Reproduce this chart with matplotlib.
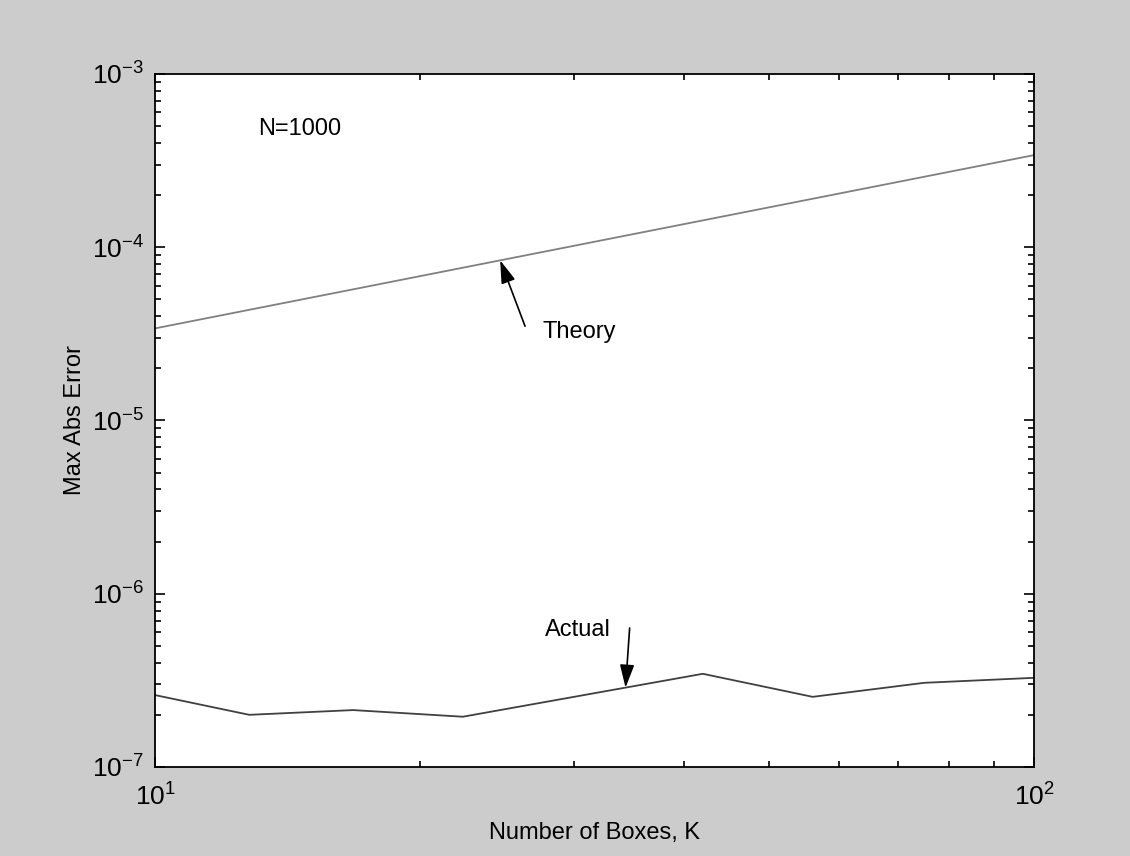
import numpy as np
import matplotlib
matplotlib.use("Agg")
import matplotlib.pyplot as plt
from matplotlib.ticker import NullFormatter

# values (log-log axes)
k_theory = [10, 100]
err_theory = [3.4e-5, 3.4e-4]

k_actual = [10, 12.8, 16.8, 22.4, 42, 56, 75, 100]
err_actual = [2.6e-7, 2.0e-7, 2.13e-7, 1.95e-7, 3.45e-7, 2.54e-7, 3.06e-7, 3.27e-7]

plt.rcParams['font.family'] = ['Liberation Sans', 'DejaVu Sans']
plt.rcParams['mathtext.fontset'] = 'custom'
plt.rcParams['mathtext.rm'] = 'Liberation Sans'
plt.rcParams['mathtext.it'] = 'Liberation Sans'
plt.rcParams['axes.unicode_minus'] = False
plt.rcParams['font.size'] = 17

fig = plt.figure(figsize=(11.3, 8.56), dpi=100, facecolor='#cccccc')
ax = fig.add_axes([0.1372, 0.104, 0.7778, 0.8096])
ax.set_facecolor('white')

ax.loglog(k_theory, err_theory, color='#808080', lw=1.3)
ax.loglog(k_actual, err_actual, color='#404040', lw=1.3)

ax.set_xlim(10, 100)
ax.set_ylim(1e-7, 1e-3)
ax.xaxis.set_minor_formatter(NullFormatter())
ax.yaxis.set_minor_formatter(NullFormatter())

for s in ax.spines.values():
    s.set_linewidth(1.3)
    s.set_color('black')

ax.tick_params(which='both', direction='in', top=True, right=True, width=1.2, colors='black')
ax.tick_params(which='major', length=7, pad=12, labelsize=19)
ax.tick_params(which='minor', length=4.5)
ax.tick_params(axis='y', which='major', pad=8)

ax.set_xlabel('Number of Boxes, K', fontsize=17)
ax.set_ylabel('Max Abs Error', fontsize=17)
ax.xaxis.set_label_coords(0.5, -0.079)
ax.yaxis.set_label_coords(-0.0785, 0.5)

ax.text(0.117, 0.9206, 'N=1000', transform=ax.transAxes, fontsize=17, va='center', ha='left')

# arrow tips sit on the lines (interpolated in log space)
kt = 24.7
yt = 10 ** np.interp(np.log10(kt), np.log10(k_theory), np.log10(err_theory))
ka = 34.3
ya = 10 ** np.interp(np.log10(ka), np.log10(k_actual), np.log10(err_actual))

arrow = dict(arrowstyle='-|>,head_width=0.22,head_length=0.7', color='black', lw=1.2,
             mutation_scale=20, shrinkA=0, shrinkB=0)
ax.annotate('', xy=(kt, yt), xycoords='data', xytext=(0.421, 0.636), textcoords='axes fraction',
            arrowprops=arrow)
ax.text(0.441, 0.628, 'Theory', transform=ax.transAxes, fontsize=17, va='center', ha='left')

ax.annotate('', xy=(ka, ya), xycoords='data', xytext=(0.540, 0.2006), textcoords='axes fraction',
            arrowprops=arrow)
ax.text(0.4437, 0.198, 'Actual', transform=ax.transAxes, fontsize=17, va='center', ha='left')

fig.savefig('out.png', dpi=100, facecolor=fig.get_facecolor())
